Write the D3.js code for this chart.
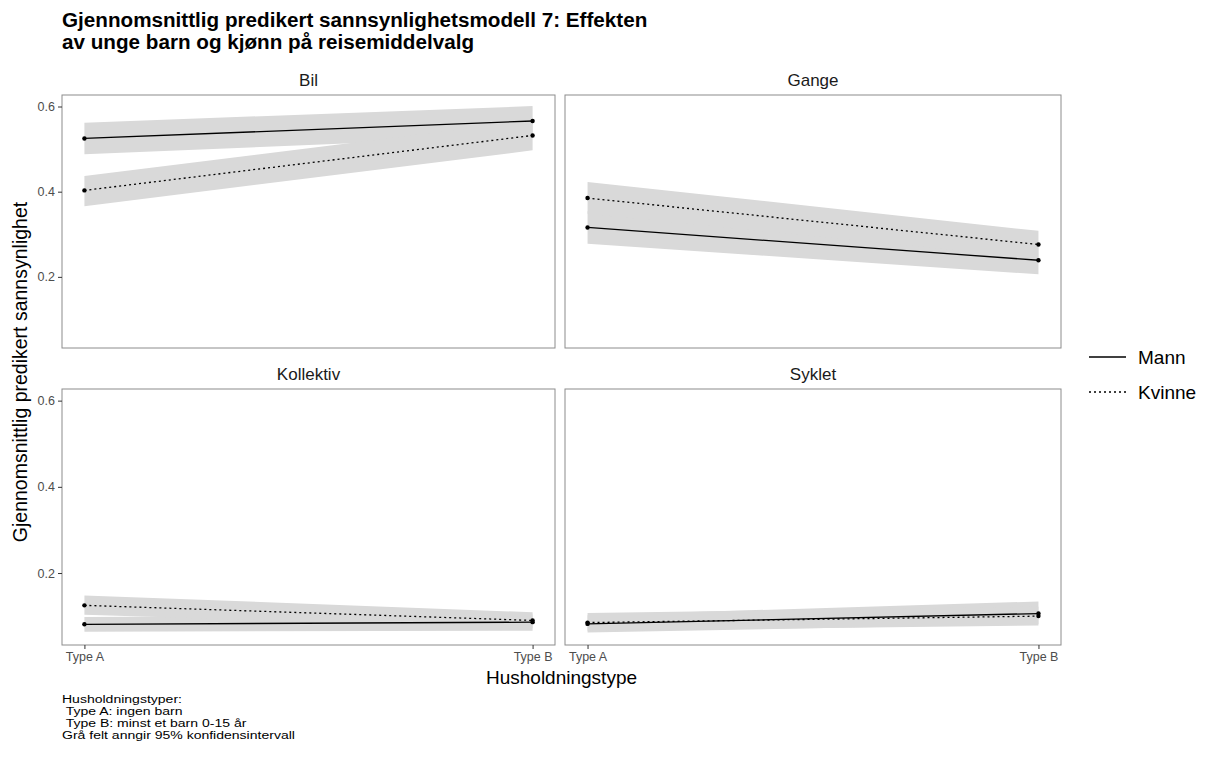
<!DOCTYPE html>
<html>
<head>
<meta charset="utf-8">
<script src="https://cdn.jsdelivr.net/npm/d3@7"></script>
<style>
  html, body { margin: 0; padding: 0; background: #fff; }
  svg { display: block; font-family: "Liberation Sans", Arial, sans-serif; }
</style>
</head>
<body>
<svg id="chart" width="1206" height="760"></svg>
<script>
// ---------------- DATA ----------------
const facets = ["Bil", "Gange", "Kollektiv", "Syklet"];
const categories = ["Type A", "Type B"];
const yTicks = [0.2, 0.4, 0.6];
const seriesNames = ["Mann", "Kvinne"];

// per facet, values at [Type A, Type B]
const mannEst   = [[0.525, 0.566], [0.316, 0.239], [0.081, 0.086], [0.082, 0.106]];
const mannLo    = [[0.488, 0.531], [0.278, 0.206], [0.064, 0.066], [0.062, 0.082]];
const mannHi    = [[0.562, 0.601], [0.354, 0.272], [0.098, 0.104], [0.102, 0.134]];
const kvinneEst = [[0.403, 0.532], [0.385, 0.276], [0.125, 0.090], [0.085, 0.100]];
const kvinneLo  = [[0.366, 0.497], [0.348, 0.244], [0.103, 0.072], [0.066, 0.078]];
const kvinneHi  = [[0.437, 0.567], [0.423, 0.308], [0.148, 0.109], [0.107, 0.122]];

const titleLines = ["Gjennomsnittlig predikert sannsynlighetsmodell 7: Effekten",
                    "av unge barn og kjønn på reisemiddelvalg"];
const yTitle = "Gjennomsnittlig predikert sannsynlighet";
const xTitle = "Husholdningstype";
const captionLines = ["Husholdningstyper:", " Type A: ingen barn", " Type B: minst et barn 0-15 år",
                      "Grå felt anngir 95% konfidensintervall"];

// ---------------- LAYOUT ----------------
const svg = d3.select("#chart");
const colX = [[62, 555], [565, 1061]];
const rowY = [[95, 348], [389, 645]];
const yDomain = [0.033, 0.627];
const dashes = { Mann: null, Kvinne: "2,3" };

// title
svg.append("g").attr("transform", "translate(62,0) scale(1.06,1)")
  .selectAll("text").data(titleLines).join("text")
  .attr("x", 0).attr("y", (d, i) => 27 + i * 22)
  .attr("font-size", 19.5).attr("font-weight", "bold").attr("fill", "#000")
  .text(d => d);

facets.forEach((name, fi) => {
  const col = fi % 2, row = Math.floor(fi / 2);
  const [x0, x1] = colX[col], [y0, y1] = rowY[row];
  const x = d3.scalePoint().domain(categories).range([x0, x1]).padding(0.05);
  const y = d3.scaleLinear().domain(yDomain).range([y1, y0]);
  const g = svg.append("g");

  // strip label
  g.append("text").attr("x", (x0 + x1) / 2).attr("y", y0 - 9)
    .attr("text-anchor", "middle").attr("font-size", 17).attr("fill", "#1a1a1a").text(name);

  const series = [
    { key: "Mann", est: mannEst[fi], lo: mannLo[fi], hi: mannHi[fi] },
    { key: "Kvinne", est: kvinneEst[fi], lo: kvinneLo[fi], hi: kvinneHi[fi] }
  ];

  const area = d3.area().x((d, i) => x(categories[i])).y0(d => y(d[0])).y1(d => y(d[1]));
  const line = d3.line().x((d, i) => x(categories[i])).y(d => y(d));

  series.forEach(s => {
    g.append("path").datum(s.lo.map((v, i) => [v, s.hi[i]]))
      .attr("d", area).attr("fill", "#d9d9d9").attr("stroke", "none");
  });
  series.forEach(s => {
    g.append("path").datum(s.est).attr("d", line)
      .attr("fill", "none").attr("stroke", "#000").attr("stroke-width", 1.3)
      .attr("stroke-dasharray", dashes[s.key]);
  });
  series.forEach(s => {
    g.selectAll(null).data(s.est).join("circle")
      .attr("cx", (d, i) => x(categories[i])).attr("cy", d => y(d))
      .attr("r", 2.2).attr("fill", "#000");
  });

  // panel border
  g.append("rect").attr("x", x0).attr("y", y0).attr("width", x1 - x0).attr("height", y1 - y0)
    .attr("fill", "none").attr("stroke", "#8c8c8c").attr("stroke-width", 1);

  // axes
  if (col === 0) {
    const ay = g.append("g").attr("transform", `translate(${x0},0)`)
      .call(d3.axisLeft(y).tickValues(yTicks).tickFormat(d3.format(".1f")).tickSize(4).tickPadding(3));
    ay.select(".domain").remove();
    ay.selectAll(".tick line").attr("stroke", "#333");
    ay.selectAll(".tick text").attr("fill", "#4d4d4d").attr("font-size", 12.5)
      .attr("font-family", "Liberation Sans, Arial, sans-serif");
  }
  if (row === 1) {
    const ax = g.append("g").attr("transform", `translate(0,${y1})`)
      .call(d3.axisBottom(x).tickSize(4).tickPadding(3));
    ax.select(".domain").remove();
    ax.selectAll(".tick line").attr("stroke", "#333");
    ax.selectAll(".tick text").attr("fill", "#4d4d4d").attr("font-size", 12.5)
      .attr("font-family", "Liberation Sans, Arial, sans-serif");
  }
});

// axis titles
svg.append("text").attr("x", (colX[0][0] + colX[1][1]) / 2).attr("y", 684)
  .attr("text-anchor", "middle").attr("font-size", 19).attr("fill", "#000").text(xTitle);
svg.append("text").attr("transform", "translate(27,372) rotate(-90)")
  .attr("text-anchor", "middle").attr("font-size", 19.5).attr("fill", "#000").text(yTitle);

// legend
const leg = svg.append("g").attr("transform", "translate(1089,357)");
seriesNames.forEach((s, i) => {
  leg.append("line").attr("x1", 0).attr("x2", 37).attr("y1", i * 35).attr("y2", i * 35)
    .attr("stroke", "#000").attr("stroke-width", 1.3).attr("stroke-dasharray", dashes[s]);
  leg.append("text").attr("x", 49).attr("y", i * 35).attr("dy", "0.35em")
    .attr("font-size", 19).attr("fill", "#000").text(s);
});

// caption (slightly wide lettering, as in the reference)
svg.append("g").attr("transform", "translate(62,0) scale(1.22,1)")
  .selectAll("text").data(captionLines).join("text")
  .attr("x", 0).attr("y", (d, i) => 703 + i * 12)
  .attr("font-size", 11.5).attr("fill", "#000").attr("xml:space", "preserve")
  .style("white-space", "pre")
  .text(d => d);
</script>
</body>
</html>
